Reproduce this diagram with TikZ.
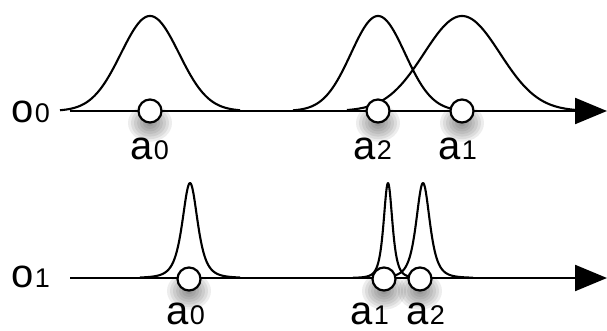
\documentclass[tikz,border=0pt]{standalone}
\usepackage{fontspec}
\setmainfont{Liberation Sans}
\usetikzlibrary{arrows.meta,backgrounds,calc}
\newcommand\mylab[2]{{\fontsize{40}{40}\selectfont #1}\kern1.5pt{\fontsize{27}{27}\selectfont #2}}
\tikzset{
  axisline/.style={line width=2.2pt,-{Triangle[length=32pt,width=26pt]}},
  curve/.style={line width=2.1pt,line join=round,smooth},
  dot/.style={circle,draw,fill=white,line width=2.2pt,minimum size=23pt,inner sep=0pt},
  lbl/.style={inner sep=0pt,anchor=base west},
}
\begin{document}
\begin{tikzpicture}[x=1pt,y=-1pt]
\useasboundingbox (0,0) rectangle (607,331);
% top axis
\coordinate (s0) at (70,111);
\coordinate (e0) at (607,111);
\draw[curve] plot[domain=60:240,samples=120] (\x,{111-95*exp(-((\x-150)^2)/(2*29^2))});
\draw[curve] plot[domain=293:463,samples=120] (\x,{111-95*exp(-((\x-378)^2)/(2*27^2))});
\draw[curve] plot[domain=347:577,samples=140] (\x,{111-95*exp(-((\x-462)^2)/(2*38^2))});
\draw[axisline] (s0) -- (e0);
\node[dot] (t0) at (150,111) {};
\node[dot] (t2) at (378,111) {};
\node[dot] (t1) at (462,111) {};
\node[lbl] (lo0) at (11,123) {\mylab{o}{0}};
\node[lbl] (lt0) at (130,160) {\mylab{a}{0}};
\node[lbl] (lt2) at (353,160) {\mylab{a}{2}};
\node[lbl] (lt1) at (438,160) {\mylab{a}{1}};
% bottom axis
\coordinate (s1) at (70,278);
\coordinate (e1) at (607,278);
\draw[curve] plot[domain=140:240,samples=160] (\x,{278-95/(1+((\x-190)/14)^2)^2});
\draw[curve] plot[domain=353:423,samples=160] (\x,{278-95/(1+((\x-388)/8)^2)^2});
\draw[curve] plot[domain=373:473,samples=160] (\x,{278-95/(1+((\x-423)/12.5)^2)^2});
\draw[axisline] (s1) -- (e1);
\node[dot] (b0) at (189,279) {};
\node[dot] (b1) at (384,279) {};
\node[dot] (b2) at (420,279) {};
\node[lbl] (lo1) at (11,287) {\mylab{o}{1}};
\node[lbl] (lb0) at (166,324) {\mylab{a}{0}};
\node[lbl] (lb1) at (350,324) {\mylab{a}{1}};
\node[lbl] (lb2) at (406,324) {\mylab{a}{2}};
% shadows
\begin{scope}[on background layer]
\foreach \p in {t0,t1,t2,b0,b1,b2}{
  \foreach \r in {22,19,16,13,10,7,4}{
    \fill[black,opacity=0.07] ($(\p)+(0,12)$) ellipse ({\r*1.0} and {\r*0.85});
  }
}
\end{scope}
\end{tikzpicture}
\end{document}
